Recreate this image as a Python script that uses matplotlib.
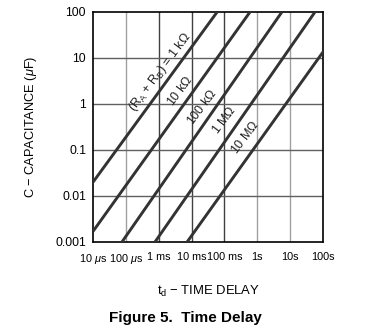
import numpy as np
import matplotlib
matplotlib.use("Agg")
import matplotlib.pyplot as plt

plt.rcParams['font.family'] = ['Liberation Sans', 'DejaVu Sans']
plt.rcParams['mathtext.fontset'] = 'custom'
plt.rcParams['mathtext.rm'] = 'Liberation Sans'
plt.rcParams['mathtext.it'] = 'Liberation Sans:italic'

# time delay vs timing capacitor, one line per (RA + RB)
resistances = ['1k', '10k', '100k', '1M', '10M']
t_start = [10e-6, 10e-6, 76e-6, 0.77e-3, 7.3e-3]   # s
c_start = [0.020, 0.0017, 0.001, 0.001, 0.001]     # uF
t_end = [0.060, 0.60, 5.6, 57.0, 100.0]            # s
c_end = [100, 100, 100, 100, 13.5]                 # uF

line_labels = [r'(R$_\mathrm{A}$ + R$_\mathrm{B}$) = 1 k$\Omega$',
               r'10 k$\Omega$', r'100 k$\Omega$', r'1 M$\Omega$', r'10 M$\Omega$']
label_t = [1.09e-3, 4.45e-3, 0.0207, 0.097, 0.42]
label_c = [4.97, 1.92, 0.86, 0.45, 0.19]

x_ticks = [1e-5, 1e-4, 1e-3, 1e-2, 1e-1, 1, 10, 100]
x_ticklabels = [r'10 $\mu$s', r'100 $\mu$s', '1 ms', '10 ms', '100 ms', '1s', '10s', '100s']
y_ticks = [0.001, 0.01, 0.1, 1, 10, 100]
y_ticklabels = ['0.001', '0.01', '0.1', '1', '10', '100']

FS = 8.7

fig = plt.figure(figsize=(3.73, 3.36), dpi=100)
ax = fig.add_axes([93/373, 94/336, 230/373, 230/336])
ax.set_xscale('log')
ax.set_yscale('log')
ax.set_xlim(1e-5, 100)
ax.set_ylim(0.001, 100)

# grid
for xt in x_ticks[1:-1]:
    col = '#a0a0a0' if xt in (1e-4, 1, 10) else '#404040'
    ax.axvline(xt, color=col, lw=1.0, zorder=1)
for yt in y_ticks[1:-1]:
    ax.axhline(yt, color='#606060', lw=1.0, zorder=1)

for i in range(len(resistances)):
    ax.plot([t_start[i], t_end[i]], [c_start[i], c_end[i]], color='#333333',
            lw=2.1, solid_capstyle='butt', zorder=3, clip_on=True)
    ax.text(label_t[i], label_c[i], line_labels[i], rotation=53,
            rotation_mode='anchor', ha='center', va='center', fontsize=9,
            color='#222222', zorder=4)

ax.set_xticks(x_ticks)
ax.set_xticklabels(x_ticklabels, fontsize=7.8)
ax.set_yticks(y_ticks)
ax.set_yticklabels(y_ticklabels, fontsize=FS)
ax.minorticks_off()
ax.tick_params(axis='x', length=0, pad=7)
ax.tick_params(axis='y', length=0, pad=5)
for s in ax.spines.values():
    s.set_linewidth(1.2)
    s.set_color('black')

ax.set_ylabel(r'C $-$ CAPACITANCE ($\mu$F)', fontsize=9.2, labelpad=12)
ax.set_xlabel(r't$_\mathrm{d}$ $-$ TIME DELAY', fontsize=9.4, labelpad=13)
fig.text(185/373, 1 - 318/336, 'Figure 5.  Time Delay', ha='center', va='center',
         fontsize=11, fontweight='bold')

fig.savefig('out.png', dpi=100)
